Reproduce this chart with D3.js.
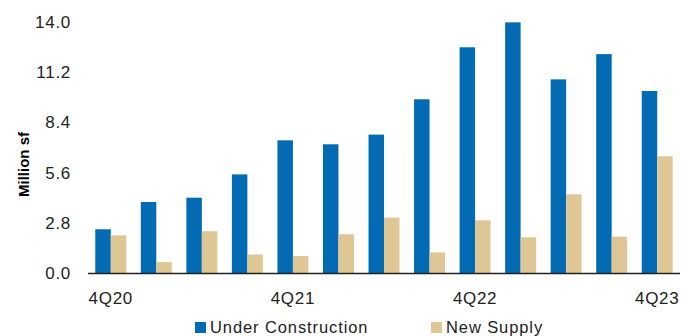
<!DOCTYPE html>
<html>
<head>
<meta charset="utf-8">
<title>Under Construction vs New Supply</title>
<script src="https://d3js.org/d3.v7.min.js"></script>
<style>
body { margin: 0; background: #fff; }
text { font-family: "Liberation Sans", Arial, sans-serif; fill: #222; }
</style>
</head>
<body>
<script>

// quarters 4Q20 .. 4Q23
var quarters = ["4Q20","1Q21","2Q21","3Q21","4Q21","1Q22","2Q22","3Q22","4Q22","1Q23","2Q23","3Q23","4Q23"];
var underConstruction = [2.44, 3.96, 4.2, 5.5, 7.4, 7.18, 7.72, 9.69, 12.59, 13.98, 10.8, 12.21, 10.15];
var newSupply = [2.1, 0.61, 2.33, 1.03, 0.95, 2.16, 3.09, 1.15, 2.94, 1.99, 4.39, 2.03, 6.51];
var yTicks = [0, 2.8, 5.6, 8.4, 11.2, 14.0];
var xLabels = ["4Q20","4Q21","4Q22","4Q23"];
var seriesNames = ["Under Construction", "New Supply"];
var colors = ["#036bb4", "#dec794"];

var width = 699, height = 336;
var margin = {left: 88, right: 19, top: 22, bottom: 63};

var svg = d3.select("body").append("svg")
	.attr("width", width)
	.attr("height", height);

var x = d3.scaleBand()
	.domain(quarters)
	.range([margin.left, width - margin.right])
	.paddingInner(0.32)
	.paddingOuter(0.16);

var x1 = d3.scaleBand()
	.domain([0, 1])
	.range([0, x.bandwidth()]);

var y = d3.scaleLinear()
	.domain([0, 14])
	.range([height - margin.bottom, margin.top]);

// y tick labels (no axis line)
svg.selectAll(".ytick")
	.data(yTicks)
	.enter()
	.append("text")
	.attr("class", "ytick")
	.attr("x", 71)
	.attr("y", function(d){ return y(d); })
	.attr("dy", "0.35em")
	.attr("text-anchor", "end")
	.style("font-size", "17px")
	.style("letter-spacing", "0.7px")
	.text(function(d){ return d.toFixed(1); });

// y title
svg.append("text")
	.attr("transform", "translate(29," + ((y(0) + y(14)) / 2 + 17) + ") rotate(-90)")
	.attr("text-anchor", "middle")
	.style("font-size", "15px")
	.style("font-weight", "bold")
	.style("fill", "#000")
	.text("Million sf");

// bars
var groups = svg.selectAll(".grp")
	.data(quarters)
	.enter()
	.append("g")
	.attr("class", "grp")
	.attr("transform", function(d){ return "translate(" + x(d) + ",0)"; });

groups.append("rect")
	.attr("x", x1(0))
	.attr("width", x1.bandwidth())
	.attr("y", function(d,i){ return y(underConstruction[i]); })
	.attr("height", function(d,i){ return y(0) - y(underConstruction[i]); })
	.attr("fill", colors[0]);

groups.append("rect")
	.attr("x", x1(1))
	.attr("width", x1.bandwidth())
	.attr("y", function(d,i){ return y(newSupply[i]); })
	.attr("height", function(d,i){ return y(0) - y(newSupply[i]); })
	.attr("fill", colors[1]);

// x axis line
svg.append("line")
	.attr("x1", margin.left)
	.attr("x2", width - margin.right)
	.attr("y1", y(0) + 0.5)
	.attr("y2", y(0) + 0.5)
	.attr("stroke", "#222")
	.attr("stroke-width", 1.5);

// x labels
svg.selectAll(".xlab")
	.data(xLabels)
	.enter()
	.append("text")
	.attr("class", "xlab")
	.attr("x", function(d){ return x(d) + x.bandwidth() / 2; })
	.attr("y", 304)
	.attr("text-anchor", "middle")
	.style("font-size", "17px")
	.style("letter-spacing", "0.7px")
	.text(function(d){ return d; });

// legend
var legendX = [195, 431];
var legend = svg.selectAll(".leg")
	.data(seriesNames)
	.enter()
	.append("g")
	.attr("class", "leg")
	.attr("transform", function(d,i){ return "translate(" + legendX[i] + ",322)"; });

legend.append("rect")
	.attr("width", 11)
	.attr("height", 11)
	.attr("fill", function(d,i){ return colors[i]; });

legend.append("text")
	.attr("x", 15)
	.attr("y", 11)
	.style("font-size", "16.5px")
	.style("letter-spacing", "0.9px")
	.text(function(d){ return d; });

</script>
</body>
</html>
